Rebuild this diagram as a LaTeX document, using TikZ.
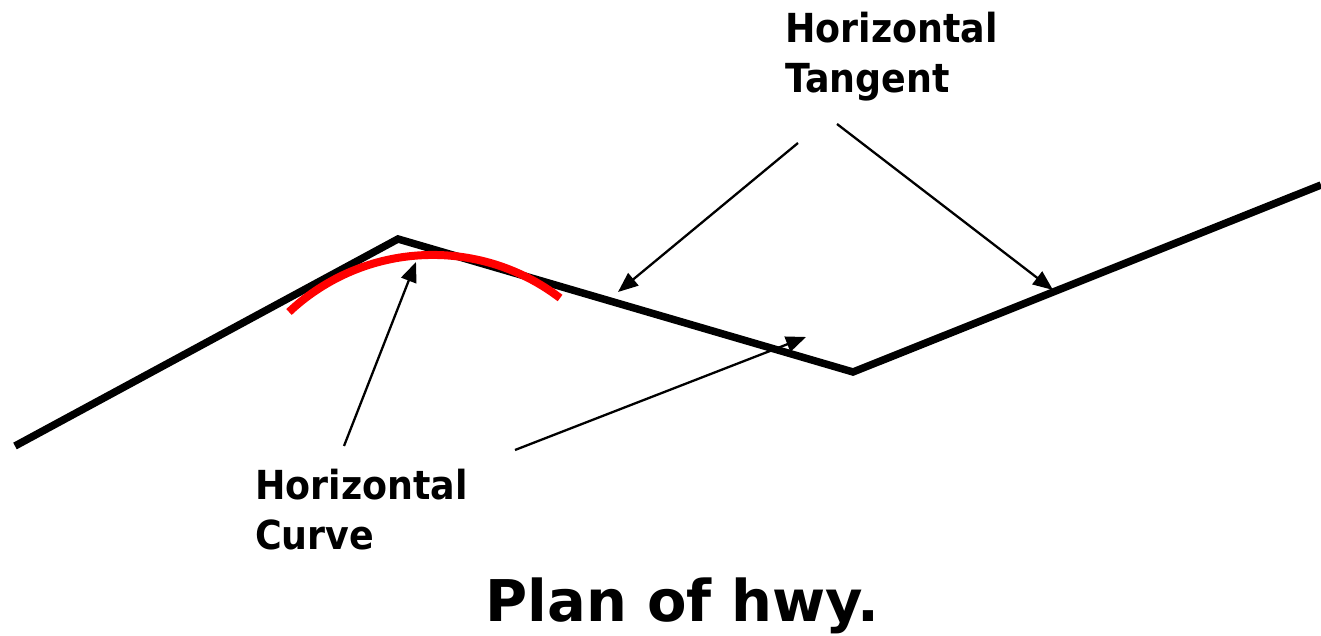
\documentclass[tikz,border=0pt]{standalone}
\usepackage{fontspec}
\setmainfont{DejaVu Sans}
\newfontfamily\labelfont[FakeStretch=0.91]{DejaVu Sans Bold}
\newfontfamily\titlefont{DejaVu Sans Bold}
\usetikzlibrary{arrows.meta}
\begin{document}
\begin{tikzpicture}[x=1pt,y=1pt,
  road/.style={line width=7.5pt,line join=miter,line cap=butt},
  curveline/.style={line width=8pt,draw={rgb,255:red,255;green,0;blue,0}},
  pointer/.style={line width=2.3pt,-{Triangle[length=20pt,width=16pt]}},
  lbl/.style={inner sep=0pt,align=left,font=\labelfont\fontsize{40}{50}\selectfont,anchor=base west},
  ttl/.style={inner sep=0pt,font=\titlefont\fontsize{57.5}{60}\selectfont,anchor=base}]
\useasboundingbox (0,0) rectangle (1321,636);

% tangent lines of the alignment
\coordinate (p0) at (15,190);
\coordinate (p1) at (398,397);
\coordinate (p2) at (853,264);
\coordinate (p3) at (1321,451);
\draw[road] (p0) -- (p1) -- (p2) -- (p3);

% circular curve fitted between the first two tangents
\coordinate (cstart) at (289,324);
\draw[curveline] (cstart) arc[start angle=133.3,end angle=52.6,radius=209.6];

% labels (anchored on the baseline of their last line)
\node[lbl] (tangent) at (785,543) {Horizontal\\Tangent};
\node[lbl] (curve) at (255,86) {Horizontal\\Curve};
\node[ttl] (title) at (682.5,14) {Plan of hwy.};

% leader arrows
\coordinate (tA) at (798,493);
\coordinate (tB) at (837,512);
\coordinate (tC) at (515,186);
\coordinate (cA) at (344,190);
\coordinate (hA) at (618,344);
\coordinate (hB) at (1053,346);
\coordinate (hC) at (806,299);
\coordinate (hD) at (416,374);
\draw[pointer] (tA) -- (hA);
\draw[pointer] (tB) -- (hB);
\draw[pointer] (tC) -- (hC);
\draw[pointer] (cA) -- (hD);
\end{tikzpicture}
\end{document}
